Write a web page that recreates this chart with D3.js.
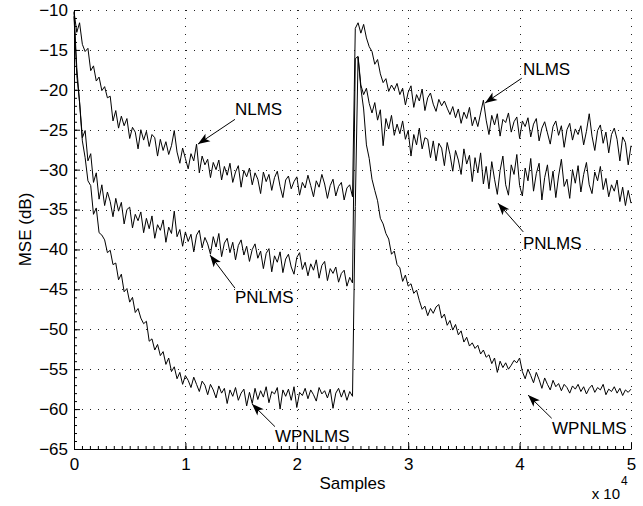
<!DOCTYPE html>
<html>
<head>
<meta charset="utf-8">
<script src="https://d3js.org/d3.v7.min.js"></script>
<style>
  body { margin: 0; background: #fff; }
  svg { display: block; font-family: "Liberation Sans", Arial, Helvetica, sans-serif; }
</style>
</head>
<body>
<div id="chart"></div>
<script>
// learning curves, one point every 250 samples from 0 to 50000
// (echo path changes at sample 25000, so all curves jump back up there)
let sampleStep = 250;

let nlmsValues = [
  -10.2, -12.8, -11.6, -14.3, -15.2, -14.8, -17.6, -17.0, -18.9, -18.4,
  -20.1, -19.6, -21.0, -20.8, -23.9, -22.6, -24.8, -23.3, -24.5, -23.6,
  -26.1, -24.7, -25.3, -27.4, -25.0, -26.3, -25.2, -27.1, -25.6, -26.0,
  -28.3, -26.2, -27.6, -26.5, -28.1, -27.0, -25.1, -27.8, -29.2, -27.3,
  -28.6, -29.9, -28.0, -28.9, -26.8, -30.4, -28.3, -29.4, -28.7, -31.0,
  -29.1, -30.0, -28.8, -31.3, -29.6, -30.7, -29.2, -31.6, -30.3, -29.5,
  -32.2, -30.1, -30.9, -29.8, -31.9, -30.4, -31.2, -33.0, -30.3, -31.5,
  -30.6, -32.6, -31.0, -30.2, -32.1, -33.5, -31.3, -30.8, -32.4, -31.5,
  -30.9, -33.2, -31.6, -32.3, -30.7, -32.0, -33.4, -31.4, -32.2, -30.6,
  -31.8, -33.6, -32.0, -31.2, -33.3, -32.1, -31.6, -33.8, -32.3, -31.9,
  -33.4,
  -12.3, -11.6, -12.9, -11.8, -13.5, -14.6, -15.2, -16.8, -16.2,
  -18.0, -19.1, -18.6, -20.2, -19.4, -20.0, -19.2, -20.6, -19.8, -21.9,
  -20.3, -19.5, -22.2, -20.6, -21.4, -19.9, -22.6, -21.0, -20.4, -21.8,
  -22.7, -21.2, -22.0, -21.4, -22.3, -23.1, -22.1, -23.5, -22.4, -24.2,
  -22.8, -23.6, -22.2, -24.5, -23.4, -24.6, -22.9, -21.3, -23.8, -25.6,
  -23.2, -24.4, -23.0, -25.8, -23.7, -24.1, -22.9, -25.3, -24.0, -23.4,
  -26.1, -23.9, -24.6, -23.5, -25.9, -24.3, -23.6, -26.4, -24.8, -24.0,
  -25.4, -26.8, -24.6, -23.9, -25.7, -24.5, -27.2, -25.0, -24.2, -26.3,
  -24.9, -25.6, -24.5, -26.9, -25.2, -23.0, -25.8, -27.6, -25.1, -24.4,
  -26.7, -25.3, -27.9, -25.6, -24.8, -26.2, -28.9, -25.9, -26.6, -29.4,
  -27.0
];

let pnlmsValues = [
  -10.8, -18.2, -21.5, -26.0, -25.1, -28.9, -28.0, -31.6, -30.4, -33.7,
  -31.9, -34.5, -32.8, -34.0, -35.9, -33.6, -35.2, -34.1, -36.8, -35.0,
  -34.7, -37.3, -35.6, -36.4, -35.3, -37.9, -36.1, -37.4, -35.8, -38.6,
  -36.9, -37.6, -36.3, -39.1, -37.2, -38.0, -35.2, -38.4, -37.5, -39.6,
  -37.8, -39.0, -38.1, -40.3, -38.2, -37.6, -39.8, -38.5, -39.3, -40.6,
  -38.4, -39.7, -38.0, -40.9, -39.2, -38.6, -40.4, -39.1, -41.3, -39.5,
  -38.8, -40.7, -39.6, -41.5, -40.0, -39.3, -41.1, -40.2, -42.4, -40.5,
  -39.9, -42.8, -40.8, -41.6, -40.3, -42.9, -41.2, -40.6, -42.2, -43.1,
  -41.0, -40.4, -42.5, -41.6, -43.3, -41.8, -42.6, -41.3, -43.6, -42.0,
  -41.5, -43.9, -42.4, -43.0, -42.2, -44.1, -43.0, -42.6, -44.6, -43.5,
  -44.2,
  -16.1, -15.8, -19.4, -20.6, -19.8, -21.7, -22.9, -21.6, -23.8,
  -22.5, -27.0, -23.6, -24.9, -23.2, -25.7, -24.3, -25.5, -23.9, -26.2,
  -25.1, -28.3, -25.6, -26.9, -24.8, -27.4, -26.0, -26.2, -28.5, -26.4,
  -28.9, -26.7, -27.3, -29.5, -26.6, -28.1, -30.2, -27.6, -28.8, -30.6,
  -27.4, -29.3, -28.2, -31.5, -28.5, -30.4, -27.9, -31.8, -29.6, -32.4,
  -29.0, -31.2, -33.1, -30.1, -28.3, -31.9, -33.2, -29.4, -30.6, -28.1,
  -32.0, -33.3, -29.8, -31.4, -28.6, -32.7, -30.5, -29.2, -33.8, -31.0,
  -29.4, -32.6, -30.2, -33.5, -30.8, -28.7, -32.1, -31.2, -33.6, -30.0,
  -31.7, -29.5, -32.8, -30.6, -29.1, -31.9, -33.0, -30.3, -31.4, -29.6,
  -32.5, -31.1, -33.4, -31.9, -32.7, -31.3, -34.0, -32.2, -34.5, -32.6,
  -34.2
];

let wpnlmsValues = [
  -10.3, -17.2, -21.6, -26.4, -28.5, -31.4, -32.0, -35.6, -34.8, -37.9,
  -38.2, -38.8, -40.4, -40.1, -41.9, -41.7, -43.8, -43.1, -45.3, -44.9,
  -46.6, -46.0, -47.9, -47.4, -48.6, -49.3, -49.0, -51.5, -51.2, -52.6,
  -51.9, -53.3, -52.8, -54.4, -53.6, -55.3, -54.7, -56.2, -55.4, -56.9,
  -55.8, -56.4, -57.3, -56.0, -56.9, -57.8, -56.5, -57.0, -58.2, -56.9,
  -57.6, -58.6, -57.1, -58.0, -57.4, -59.3, -57.6, -58.4, -57.3, -58.9,
  -58.0, -57.5, -59.6, -57.9, -59.3, -57.4, -58.8, -57.7, -58.5, -57.2,
  -59.2, -57.8, -58.1, -57.3, -60.0, -57.6, -58.4, -57.5, -58.9, -57.2,
  -59.8, -57.9, -58.3, -57.4, -58.7, -57.6, -58.2, -59.0, -57.3, -58.1,
  -57.7, -58.6, -57.5, -59.9, -58.0, -57.4, -58.5, -57.6, -58.9, -57.8,
  -58.4,
  -34.6, -15.9, -19.8, -22.4, -26.9, -28.6, -31.2, -32.6, -33.9,
  -36.1, -36.8, -38.0, -38.7, -40.6, -40.2, -41.9, -42.3, -44.0, -43.2,
  -44.6, -44.3, -45.5, -45.1, -46.4, -47.5, -47.1, -48.3, -47.4, -48.0,
  -47.2, -46.9, -48.6, -48.1, -49.5, -48.9, -50.1, -49.4, -50.7, -50.2,
  -51.6, -51.0, -52.1, -51.7, -52.4, -52.0, -53.1, -52.6, -53.5, -53.2,
  -54.3, -53.6, -55.4, -54.0, -54.8, -54.2, -55.0, -54.5, -53.9, -54.2,
  -53.6, -55.3, -56.2, -55.0, -55.8, -56.7, -55.4, -56.3, -57.4, -56.1,
  -56.9, -57.6, -56.4, -57.2, -56.8, -57.7, -56.9, -57.3, -58.0, -57.1,
  -57.5, -56.9, -57.8, -57.2, -58.1, -57.4, -57.0, -57.9, -57.3, -57.6,
  -56.9, -58.2, -57.5, -57.8, -57.2, -58.0, -57.4, -58.3, -57.6, -57.9,
  -57.5
];

// axis ticks
let xTicks = [0, 10000, 20000, 30000, 40000, 50000];
let xTickLabels = ["0", "1", "2", "3", "4", "5"];
let yTicks = [-65, -60, -55, -50, -45, -40, -35, -30, -25, -20, -15, -10];
let yTickLabels = ["\u221265", "\u221260", "\u221255", "\u221250", "\u221245", "\u221240",
  "\u221235", "\u221230", "\u221225", "\u221220", "\u221215", "\u221210"];

// text arrows (data units): label position, arrow tail, arrow tip
let annotations = [
  { text: "NLMS",   tx: 14450, ty: -23.15, ax: 14450, ay: -23.7,  bx: 11130, by: -26.8 },
  { text: "NLMS",   tx: 40300, ty: -18.15, ax: 40190, ay: -18.55, bx: 36900, by: -21.65 },
  { text: "PNLMS",  tx: 40300, ty: -39.95, ax: 40330, ay: -37.8,  bx: 38060, by: -34.2 },
  { text: "PNLMS",  tx: 14450, ty: -46.7,  ax: 14450, ay: -44.85, bx: 12210, by: -40.7 },
  { text: "WPNLMS", tx: 18040, ty: -64.1,  ax: 18040, ay: -62.2,  bx: 15980, by: -59.35 },
  { text: "WPNLMS", tx: 42910, ty: -63.1,  ax: 42880, ay: -61.15, bx: 40760, by: -58.25 }
];

makeChart();

function makeChart() {
  let fullWidth = 643;
  let fullHeight = 506;
  let margin = { top: 10, right: 12, bottom: 57, left: 74 };
  let width = fullWidth - margin.left - margin.right;
  let height = fullHeight - margin.top - margin.bottom;

  let svg = d3.select("#chart")
    .append("svg")
    .attr("width", fullWidth)
    .attr("height", fullHeight);

  let chart = svg.append("g")
    .attr("transform", "translate(" + margin.left + "," + margin.top + ")");

  let xScale = d3.scaleLinear().domain([0, 50000]).range([0, width]);
  let yScale = d3.scaleLinear().domain([-65, -10]).range([height, 0]);

  // dotted grid
  chart.append("g")
    .selectAll("line")
    .data(yTicks.slice(1))
    .enter()
    .append("line")
    .attr("x1", 0)
    .attr("x2", width)
    .attr("y1", function(d) { return Math.round(yScale(d)) + 0.5; })
    .attr("y2", function(d) { return Math.round(yScale(d)) + 0.5; })
    .attr("stroke", "#222")
    .attr("stroke-dasharray", "1,7");

  chart.append("g")
    .selectAll("line")
    .data(xTicks.slice(1))
    .enter()
    .append("line")
    .attr("x1", function(d) { return Math.round(xScale(d)) + 0.5; })
    .attr("x2", function(d) { return Math.round(xScale(d)) + 0.5; })
    .attr("y1", 0)
    .attr("y2", height)
    .attr("stroke", "#222")
    .attr("stroke-dasharray", "1,7");

  // curves
  let line = d3.line()
    .x(function(d, i) { return xScale(i * sampleStep); })
    .y(function(d) { return yScale(d); });

  [nlmsValues, pnlmsValues, wpnlmsValues].forEach(function(series) {
    chart.append("path")
      .datum(series)
      .attr("d", line)
      .attr("fill", "none")
      .attr("stroke", "#000")
      .attr("stroke-width", 1)
      .attr("stroke-linejoin", "round");
  });

  // minor ticks (inside the box)
  chart.append("g")
    .attr("transform", "translate(0," + height + ")")
    .call(d3.axisBottom(xScale)
      .tickValues(d3.range(0, 50001, 50000 / 70))
      .tickSize(-3)
      .tickFormat(""))
    .call(function(g) { g.select(".domain").remove(); });

  chart.append("g")
    .call(d3.axisLeft(yScale)
      .tickValues(d3.range(-65, -9, 1))
      .tickSize(-3)
      .tickFormat(""))
    .call(function(g) { g.select(".domain").remove(); });

  // major axes
  chart.append("g")
    .attr("transform", "translate(0," + height + ")")
    .call(d3.axisBottom(xScale)
      .tickValues(xTicks)
      .tickSize(-6)
      .tickSizeOuter(0)
      .tickPadding(9)
      .tickFormat(function(d, i) { return xTickLabels[i]; }))
    .call(function(g) {
      g.selectAll("text").style("font-size", "17px").attr("fill", "#000");
    });

  chart.append("g")
    .call(d3.axisLeft(yScale)
      .tickValues(yTicks)
      .tickSize(-6)
      .tickSizeOuter(0)
      .tickPadding(6)
      .tickFormat(function(d, i) { return yTickLabels[i]; }))
    .call(function(g) {
      g.selectAll("text").style("font-size", "17px").attr("fill", "#000");
    });

  // axis titles
  chart.append("text")
    .attr("x", width / 2)
    .attr("y", height + 40)
    .attr("text-anchor", "middle")
    .style("font-size", "17px")
    .text("Samples");

  chart.append("text")
    .attr("transform", "translate(-43," + (height / 2) + ") rotate(-90)")
    .attr("text-anchor", "middle")
    .style("font-size", "17px")
    .text("MSE (dB)");

  // exponent note under the x axis
  chart.append("text")
    .attr("x", width - 11)
    .attr("y", height + 50)
    .attr("text-anchor", "end")
    .style("font-size", "15px")
    .text("x 10");

  chart.append("text")
    .attr("x", width - 10)
    .attr("y", height + 36)
    .style("font-size", "12px")
    .text("4");

  // labels with arrows
  chart.append("g")
    .selectAll("text")
    .data(annotations)
    .enter()
    .append("text")
    .attr("x", function(d) { return xScale(d.tx); })
    .attr("y", function(d) { return yScale(d.ty); })
    .style("font-size", "17px")
    .text(function(d) { return d.text; });

  let arrows = chart.append("g")
    .selectAll("g")
    .data(annotations)
    .enter()
    .append("g");

  arrows.append("line")
    .attr("x1", function(d) { return xScale(d.ax); })
    .attr("y1", function(d) { return yScale(d.ay); })
    .attr("x2", function(d) { return xScale(d.bx); })
    .attr("y2", function(d) { return yScale(d.by); })
    .attr("stroke", "#000")
    .attr("stroke-width", 1);

  // arrow heads
  arrows.append("path")
    .attr("d", "M0,0 L-12,-4.5 L-9,0 L-12,4.5 Z")
    .attr("fill", "#000")
    .attr("transform", function(d) {
      let x1 = xScale(d.ax), y1 = yScale(d.ay);
      let x2 = xScale(d.bx), y2 = yScale(d.by);
      let angle = Math.atan2(y2 - y1, x2 - x1) * 180 / Math.PI;
      return "translate(" + x2 + "," + y2 + ") rotate(" + angle + ")";
    });
}
</script>
</body>
</html>
